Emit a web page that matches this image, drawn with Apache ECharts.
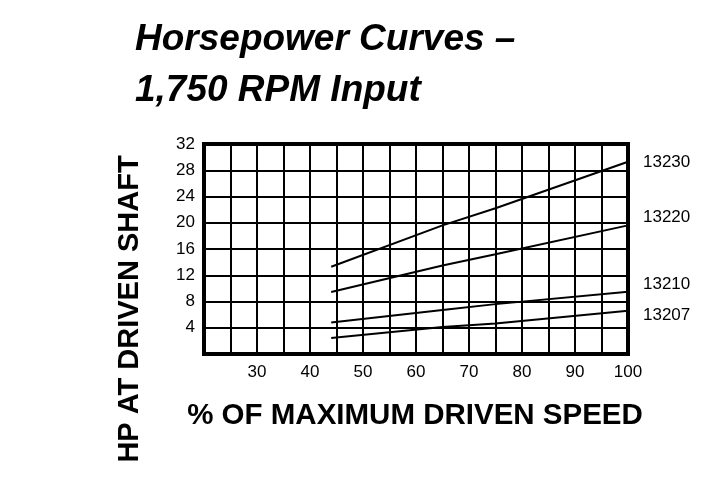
<!DOCTYPE html>
<html>
<head>
<meta charset="utf-8">
<script src="https://cdn.jsdelivr.net/npm/echarts@6/dist/echarts.min.js"></script>
<style>
html,body{margin:0;padding:0;background:#fff;}
#chart{width:719px;height:503px;}
</style>
</head>
<body>
<div id="chart"></div>
<script>
// ---- data ----
const speedPct = [44, 65, 75, 100];           // % of maximum driven speed
const seriesNames = ['13230', '13220', '13210', '13207'];
const hp13230 = [13.3, 19.6, 22.2, 29.3];
const hp13220 = [9.45, 13.5, 15.2, 19.6];
const hp13210 = [4.8, 6.7, 7.6, 9.5];
const hp13207 = [2.45, 4.1, 4.65, 6.6];
const labelShift = [1, -8, -7, 5];
const xTickLabels = [30, 40, 50, 60, 70, 80, 90, 100];
const yTickLabels = [4, 8, 12, 16, 20, 24, 28, 32];

const titleText = 'Horsepower Curves \u2013\n1,750 RPM Input';
const xName = '% OF MAXIMUM DRIVEN SPEED';
const yName = 'HP AT DRIVEN SHAFT';

const allSeries = [hp13230, hp13220, hp13210, hp13207];
const FONT = '"Liberation Sans", Arial, Helvetica, sans-serif';

const chart = echarts.init(document.getElementById('chart'), null, {renderer: 'canvas'});
chart.setOption({
  animation: false,
  backgroundColor: '#fff',
  title: {
    text: titleText,
    left: 130,
    top: 9,
    textStyle: {
      fontFamily: FONT, fontSize: 37, fontStyle: 'italic', fontWeight: 'bold',
      color: '#000', lineHeight: 51
    }
  },
  grid: {
    left: 204, right: 91, top: 144, bottom: 149,
    show: true, borderColor: '#000', borderWidth: 4, backgroundColor: 'transparent'
  },
  xAxis: {
    type: 'value', min: 20, max: 100, interval: 5,
    axisLine: {show: false}, axisTick: {show: false},
    splitLine: {show: true, lineStyle: {color: '#000', width: 2}},
    axisLabel: {
      margin: 10, color: '#000', fontFamily: FONT, fontSize: 17,
      formatter: v => xTickLabels.includes(v) ? String(v) : ''
    }
  },
  yAxis: {
    type: 'value', min: 0, max: 32, interval: 4,
    axisLine: {show: false}, axisTick: {show: false},
    splitLine: {show: true, lineStyle: {color: '#000', width: 2}},
    axisLabel: {
      margin: 9, color: '#000', fontFamily: FONT, fontSize: 17,
      formatter: v => yTickLabels.includes(v) ? String(v) : ''
    }
  },
  graphic: [
    {
      type: 'text', x: 130, y: 309, rotation: Math.PI / 2,
      style: {text: yName, fontFamily: FONT, fontSize: 29, fontWeight: 'bold',
              fill: '#000', align: 'center', verticalAlign: 'middle'}
    },
    {
      type: 'text', x: 415, y: 416,
      style: {text: xName, fontFamily: FONT, fontSize: 29.5, fontWeight: 'bold',
              fill: '#000', align: 'center', verticalAlign: 'middle'}
    }
  ],
  series: allSeries.map((vals, i) => ({
    name: seriesNames[i],
    type: 'line',
    data: speedPct.map((x, j) => [x, vals[j]]),
    showSymbol: false,
    symbol: 'none',
    lineStyle: {color: '#000', width: 2},
    endLabel: {
      show: true, formatter: seriesNames[i], distance: 15,
      offset: [0, labelShift[i]],
      color: '#000', fontFamily: FONT, fontSize: 17
    },
    z: 5
  }))
});
</script>
</body>
</html>
